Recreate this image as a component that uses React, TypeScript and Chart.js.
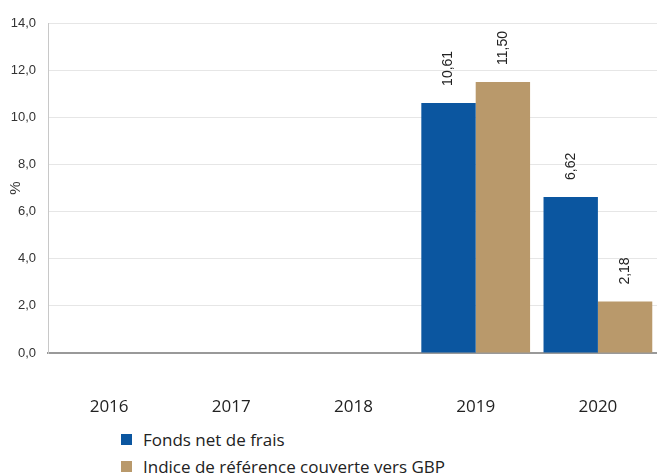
import React, { useEffect, useRef } from "react";
import { Chart, registerables } from "chart.js";

Chart.register(...registerables);

const categories = ["2016", "2017", "2018", "2019", "2020"];
const fondsValues = [null, null, null, 10.61, 6.62];
const indiceValues = [null, null, null, 11.5, 2.18];
const seriesNames = ["Fonds net de frais", "Indice de référence couverte vers GBP"];
const seriesColors = ["#0B56A0", "#B9996B"];
const yTicks = { min: 0, max: 14, step: 2 };

const fmt = (v: number, d: number) => v.toFixed(d).replace(".", ",");
const labelFont = "'Open Sans', sans-serif";

const valueLabels = {
  id: "valueLabels",
  afterDatasetsDraw(chart: any) {
    const ctx = chart.ctx;
    ctx.save();
    ctx.font = "14px 'Liberation Sans', Arial, sans-serif";
    ctx.fillStyle = "#222";
    ctx.textAlign = "left";
    ctx.textBaseline = "middle";
    chart.data.datasets.forEach((ds: any, i: number) => {
      const meta = chart.getDatasetMeta(i);
      meta.data.forEach((el: any, j: number) => {
        const v = ds.data[j];
        if (v === null || v === undefined) return;
        ctx.save();
        ctx.translate(el.x, el.y - 17);
        ctx.rotate(-Math.PI / 2);
        ctx.fillText(fmt(v, 2), 0, 0);
        ctx.restore();
      });
    });
    ctx.restore();
  },
};

export default function App() {
  const ref = useRef<HTMLCanvasElement>(null);
  useEffect(() => {
    document.body.style.margin = "0";
    const chart = new Chart(ref.current!, {
      type: "bar",
      data: {
        labels: categories,
        datasets: [
          { label: seriesNames[0], data: fondsValues as any, backgroundColor: seriesColors[0] },
          { label: seriesNames[1], data: indiceValues as any, backgroundColor: seriesColors[1] },
        ],
      },
      options: {
        animation: false,
        responsive: false,
        maintainAspectRatio: false,
        layout: { padding: { top: 23, right: 0, left: 0, bottom: 0 } },
        datasets: { bar: { categoryPercentage: 0.89, barPercentage: 1 } } as any,
        plugins: { legend: { display: false }, tooltip: { enabled: false } },
        scales: {
          x: {
            grid: { display: false, drawTicks: false },
            border: { color: "#999", width: 2 },
            ticks: {
              padding: 44,
              color: "#222",
              font: { family: labelFont, size: 17 },
            },
            afterFit: (s: any) => {
              s.height = 67;
              s.paddingLeft = 0;
              s.paddingRight = 0;
            },
          },
          y: {
            min: yTicks.min,
            max: yTicks.max,
            ticks: {
              stepSize: yTicks.step,
              color: "#333",
              padding: 12,
              font: { family: "'Liberation Sans', Arial, sans-serif", size: 13 },
              callback: (v: any) => fmt(Number(v), 1),
            },
            grid: { color: "#e6e6e6", drawTicks: false },
            border: { color: "#c8c8c8", width: 1 },
            title: {
              display: true,
              text: "%",
              color: "#333",
              padding: { top: 7, bottom: 0 },
              font: { family: "'Liberation Sans', Arial, sans-serif", size: 15 },
            },
            afterFit: (s: any) => {
              s.width = 48;
            },
          },
        },
      },
      plugins: [valueLabels],
    });
    return () => chart.destroy();
  }, []);

  const legendItem = (name: string, color: string) => (
    <div style={{ display: "flex", alignItems: "center", height: 27 }}>
      <span style={{ width: 11, height: 11, background: color, display: "inline-block", marginRight: 11 }} />
      <span style={{ fontFamily: labelFont, fontSize: 17, color: "#222" }}>{name}</span>
    </div>
  );

  return (
    <div style={{ width: 657, height: 476, position: "relative", background: "#fff", overflow: "hidden" }}>
      <canvas ref={ref} width={659} height={420} style={{ display: "block" }} />
      <div style={{ position: "absolute", left: 121, top: 426 }}>
        {legendItem(seriesNames[0], seriesColors[0])}
        {legendItem(seriesNames[1], seriesColors[1])}
      </div>
    </div>
  );
}
